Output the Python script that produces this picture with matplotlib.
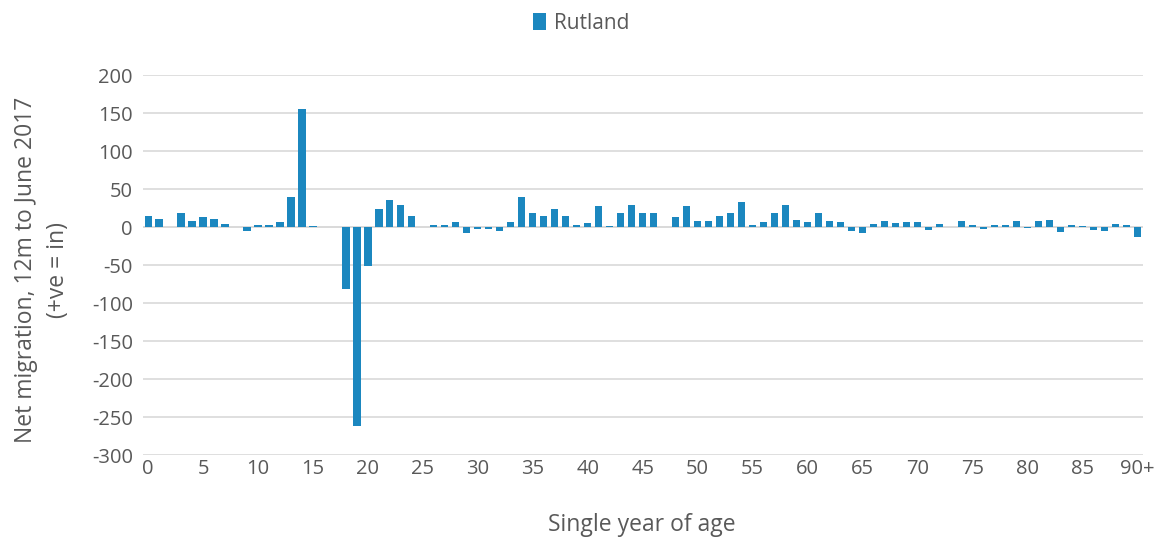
import matplotlib.pyplot as plt
import numpy as np

plt.rcParams['font.family'] = ['Open Sans', 'DejaVu Sans']

ages = [str(a) for a in range(90)] + ['90+']
net_migration = [
    15, 10, 0, 18, 8, 13, 10, 4, 0, -5,
    2, 2, 6, 40, 155, 1, 0, 0, -81, -262,
    -51, 24, 35, 29, 14, 0, 2, 3, 7, -8,
    -3, -3, -5, 7, 40, 19, 14, 24, 15, 2,
    5, 28, 1, 18, 29, 19, 18, 0, 13, 28,
    8, 8, 14, 18, 33, 2, 7, 18, 29, 9,
    7, 19, 8, 7, -5, -8, 4, 8, 5, 7,
    7, -4, 4, 0, 8, 2, -2, 2, 2, 8,
    -1, 8, 9, -7, 3, 1, -4, -5, 4, 2,
    -13,
]
yticks = list(range(-300, 201, 50))

grey = '#595959'
fig = plt.figure(figsize=(11.62, 5.4), dpi=100)
ax = fig.add_axes([0.1227, 0.1574, 0.8609, 0.7037])

x = np.arange(len(ages))
ax.bar(x, net_migration, width=0.65, color='#1B87BF', label='Rutland', zorder=3)

ax.set_xlim(-0.5, len(ages) - 0.5)
ax.set_ylim(-300, 200)
ax.set_yticks(yticks)
ax.set_yticklabels([str(v) for v in yticks])
ax.set_xticks(x[::5])
ax.set_xticklabels(ages[::5])
ax.tick_params(length=0, labelsize=14.5, colors=grey)
ax.tick_params(axis='x', pad=3)
ax.tick_params(axis='y', pad=7)
ax.grid(axis='y', color='#D9D9D9', linewidth=1.2, zorder=0)
ax.axhline(0, color='#D9D9D9', linewidth=1.2, zorder=1)
for s in ax.spines.values():
    s.set_visible(False)

fig.text(0.5525, 0.028, 'Single year of age', fontsize=16.5, color=grey,
         ha='center', va='center')
fig.text(0.036, 0.5, 'Net migration, 12m to June 2017\n(+ve = in)', fontsize=16.5,
         color=grey, rotation=90, ha='center', va='center', multialignment='center',
         linespacing=1.45)

fig.legend(loc='center', bbox_to_anchor=(0.5, 0.957), frameon=False,
           fontsize=15, labelcolor=grey, handlelength=0.65, handleheight=0.9,
           handletextpad=0.35)

fig.savefig('out.png', dpi=100)
